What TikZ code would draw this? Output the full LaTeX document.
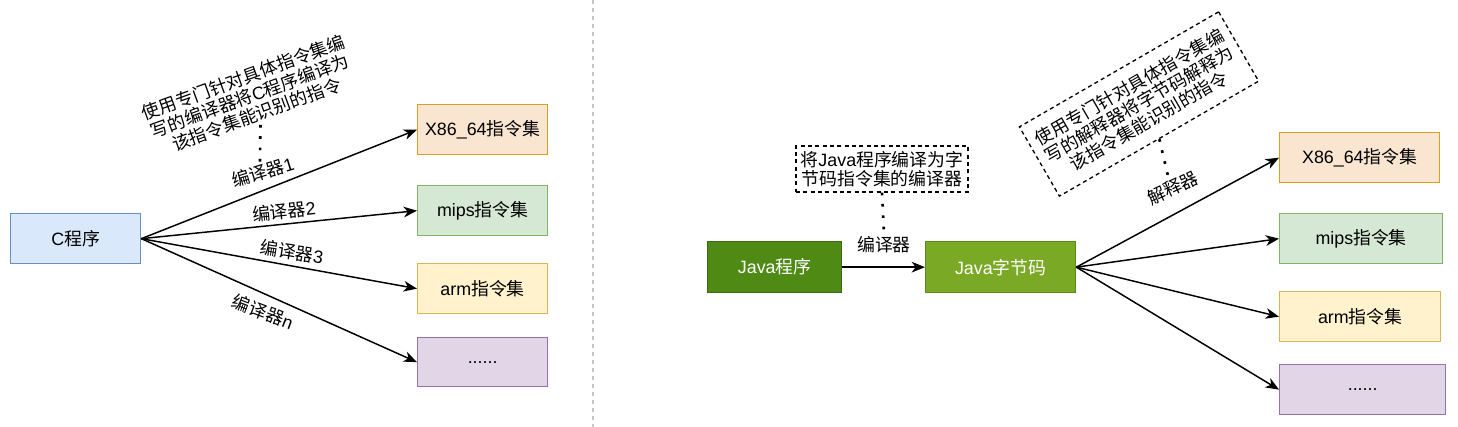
\documentclass[tikz,border=0pt]{standalone}
\usepackage{fontspec}
\setmainfont{Liberation Sans}
\newfontfamily\cjk{Noto Sans CJK SC}
\usetikzlibrary{arrows.meta}
\XeTeXinterchartokenstate=1
\newXeTeXintercharclass\cjkcls
\count255="4E00
\loop
 \XeTeXcharclass\count255=\cjkcls
 \advance\count255 by 1
\ifnum\count255<"A000 \repeat
\XeTeXinterchartoks 0 \cjkcls = {\cjk}
\XeTeXinterchartoks 4095 \cjkcls = {\cjk}
\XeTeXinterchartoks \cjkcls 0 = {\rmfamily}
\definecolor{cfill}{HTML}{DAE8FC}\definecolor{cdraw}{HTML}{6C8EBF}
\definecolor{ofill}{HTML}{FAE6D0}\definecolor{odraw}{HTML}{D7A020}
\definecolor{gfill}{HTML}{D5E8D4}\definecolor{gdraw}{HTML}{82B366}
\definecolor{yfill}{HTML}{FFF2CC}\definecolor{ydraw}{HTML}{D6B656}
\definecolor{pfill}{HTML}{E1D5E7}\definecolor{pdraw}{HTML}{9673A6}
\definecolor{jpfill}{HTML}{4E8A14}\definecolor{jpdraw}{HTML}{3A6B0E}
\definecolor{jbfill}{HTML}{7AA926}\definecolor{jbdraw}{HTML}{5C8A1A}
\definecolor{divcol}{HTML}{C8C8C8}
\begin{document}
\begin{tikzpicture}[x=0.75pt,y=-0.75pt,
  font=\fontsize{13.4}{14.6}\selectfont,
  box/.style={draw, line width=1pt, inner sep=0pt, anchor=north west},
  lab/.style={inner sep=1.5pt},
  ann/.style={align=center, inner sep=2pt},
  dashbox/.style={draw, line width=1pt, dash pattern=on 3pt off 2.5pt, align=center, inner sep=2pt},
  arr/.style={line width=1.1pt, -{Stealth[length=10pt,width=8pt,inset=3pt]}},
  dotl/.style={line width=2pt, dash pattern=on 2pt off 6.5pt},
  divider/.style={divcol, line width=0.8pt, dash pattern=on 3pt off 3pt}]
\useasboundingbox (0,0) rectangle (1458,427);
% divider
\coordinate (dtop) at (593,0);
\coordinate (dbot) at (593,427);
\draw[divider] (dtop) -- (dbot);
% left side
\node[box, fill=cfill, draw=cdraw, minimum width=97.5pt, minimum height=37.5pt] (c) at (10,213) {C程序};
\node[box, fill=ofill, draw=odraw, minimum width=97.5pt, minimum height=37.5pt] (lx) at (417,104) {X86\_64指令集};
\node[box, fill=gfill, draw=gdraw, minimum width=97.5pt, minimum height=37.5pt] (lm) at (417,185) {mips指令集};
\node[box, fill=yfill, draw=ydraw, minimum width=97.5pt, minimum height=37.5pt] (la) at (417,263) {arm指令集};
\node[box, fill=pfill, draw=pdraw, minimum width=97.5pt, minimum height=36.75pt] (ld) at (417,337) {......};
\draw[arr] (c.east) -- (lx.west);
\draw[arr] (c.east) -- (lm.west);
\draw[arr] (c.east) -- (la.west);
\draw[arr] (c.east) -- (ld.west);
\node[lab, rotate=17] (l1) at (263,172) {编译器1};
\node[lab, rotate=6] (l2) at (284,211) {编译器2};
\node[lab, rotate=-9] (l3) at (292,252) {编译器3};
\node[lab, rotate=-21] (l4) at (263,312) {编译器n};
\node[ann, rotate=20] (annL) at (250,96) {使用专门针对具体指令集编\\写的编译器将C程序编译为\\该指令集能识别的指令};
\draw[dotl] (annL.south) -- (l1.north);
% right side
\node[box, fill=jpfill, draw=jpdraw, text=white, minimum width=100.5pt, minimum height=38.25pt] (jp) at (707,241) {Java程序};
\node[box, fill=jbfill, draw=jbdraw, text=white, minimum width=112.5pt, minimum height=38.25pt] (jb) at (925,241) {Java字节码};
\node[box, fill=ofill, draw=odraw, minimum width=120pt, minimum height=37.5pt] (rx) at (1279,132) {X86\_64指令集};
\node[box, fill=gfill, draw=gdraw, minimum width=122.25pt, minimum height=37.5pt] (rm) at (1279,213) {mips指令集};
\node[box, fill=yfill, draw=ydraw, minimum width=120.75pt, minimum height=37.5pt] (ra) at (1279,291) {arm指令集};
\node[box, fill=pfill, draw=pdraw, minimum width=124.5pt, minimum height=37.5pt] (rd) at (1279,364) {......};
\draw[arr] (jp.east) -- (jb.west);
\draw[arr] (jb.east) -- (rx.west);
\draw[arr] (jb.east) -- (rm.west);
\draw[arr] (jb.east) -- (ra.west);
\draw[arr] (jb.east) -- (rd.west);
\node[lab] (lj) at (884,245) {编译器};
\node[dashbox, minimum width=129pt, minimum height=34.5pt] (annJ) at (882,169) {将Java程序编译为字\\节码指令集的编译器};
\draw[dotl] (annJ.south) -- (lj.north);
\node[lab, rotate=25] (lr) at (1173,188) {解释器};
\node[dashbox, rotate=30, minimum width=172.5pt, minimum height=60pt] (annR) at (1139,104) {使用专门针对具体指令集编\\写的解释器将字节码解释为\\该指令集能识别的指令};
\draw[dotl] (annR.south) -- (lr.north);
\end{tikzpicture}
\end{document}
